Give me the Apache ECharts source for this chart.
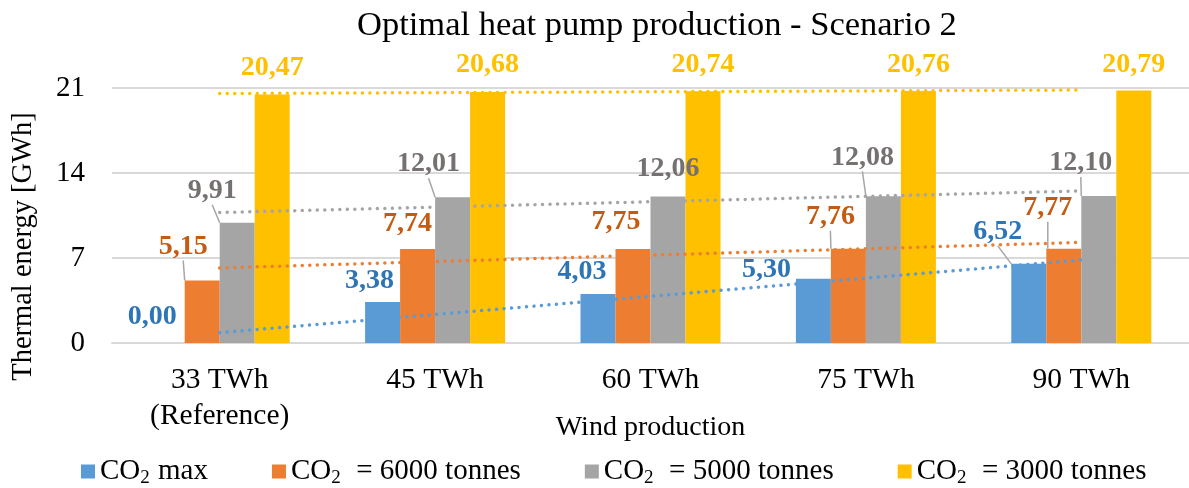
<!DOCTYPE html>
<html>
<head>
<meta charset="utf-8">
<script src="https://cdn.jsdelivr.net/npm/echarts@6/dist/echarts.min.js"></script>
<style>
  html, body { margin: 0; padding: 0; background: #ffffff; }
  #chart { width: 1189px; height: 488px; }
</style>
</head>
<body>
<div id="chart"></div>
<script>
// Wind production scenarios (x axis)
const categories = ['33 TWh\n(Reference)', '45 TWh', '60 TWh', '75 TWh', '90 TWh'];

// Heat pump production [GWh] per CO2 constraint
const co2Max   = [0.00, 3.38, 4.03, 5.30, 6.52];
const co2T6000 = [5.15, 7.74, 7.75, 7.76, 7.77];
const co2T5000 = [9.91, 12.01, 12.06, 12.08, 12.10];
const co2T3000 = [20.47, 20.68, 20.74, 20.76, 20.79];

const seriesNames = ['CO2 max', 'CO2  = 6000 tonnes', 'CO2  = 5000 tonnes', 'CO2  = 3000 tonnes'];

// Value axis ticks
const yMin = 0, yMax = 21, yStep = 7;

const FONT = "'Liberation Serif', 'Times New Roman', serif";
const barColors   = ['#5B9BD5', '#ED7D31', '#A5A5A5', '#FFC000'];
const labelColors = ['#2E75B6', '#C55A11', '#767171', '#FFC000'];

// Manual nudges of the value labels (dx, dy in px) and which ones get a leader line
const labelShift = [
  [[-15, -7], [-13, -2], [-16, -3], [-47, 10], [-31, -13]],
  [[-19, -15], [-10, -6], [-17, -8], [-18, -13], [-16, -22]],
  [[-25, -13], [-24, -14], [0, -9], [-21, -20], [-18, -14]],
  [[0, -8], [0, -8], [0, -7], [0, -7], [0, -7]]
];
const leader = [
  [false, false, false, false, true],
  [true, false, false, true, true],
  [true, true, false, true, true],
  [false, false, false, false, false]
];

const seriesData = [co2Max, co2T6000, co2T5000, co2T3000];

// Least-squares linear trend evaluated at each category position
function linearTrend(values) {
  const n = values.length;
  const xs = values.map((_, i) => i + 1);
  const mx = xs.reduce((a, b) => a + b, 0) / n;
  const my = values.reduce((a, b) => a + b, 0) / n;
  let sxy = 0, sxx = 0;
  for (let i = 0; i < n; i++) {
    sxy += (xs[i] - mx) * (values[i] - my);
    sxx += (xs[i] - mx) * (xs[i] - mx);
  }
  const slope = sxy / sxx;
  const icpt = my - slope * mx;
  return xs.map(x => +(icpt + slope * x).toFixed(4));
}

const fmt = v => v.toFixed(2).replace('.', ',');

const barSeries = seriesData.map((vals, s) => ({
  name: seriesNames[s],
  type: 'bar',
  barWidth: 35,
  barGap: '0%',
  itemStyle: { color: barColors[s] },
  data: vals.map((v, i) => ({
    value: v,
    labelLine: { show: leader[s][i] }
  })),
  label: {
    show: true,
    position: 'top',
    distance: 5,
    formatter: p => fmt(p.value),
    color: labelColors[s],
    fontFamily: FONT,
    fontWeight: 'bold',
    fontSize: 28
  },
  labelLine: {
    show: false,
    lineStyle: { color: '#A6A6A6', width: 1.5 }
  },
  labelLayout: p => ({ dx: labelShift[s][p.dataIndex][0], dy: labelShift[s][p.dataIndex][1] }),
  z: 2
}));

const trendSeries = seriesData.map((vals, s) => ({
  name: seriesNames[s] + ' trend',
  type: 'line',
  data: linearTrend(vals),
  showSymbol: false,
  symbol: 'none',
  silent: true,
  lineStyle: { color: barColors[s], width: 3.5, type: [0.01, 7.5], cap: 'round' },
  z: 5
}));

const chart = echarts.init(document.getElementById('chart'), null, { renderer: 'canvas' });
chart.setOption({
  animation: false,
  backgroundColor: '#ffffff',
  title: {
    text: 'Optimal heat pump production - Scenario 2',
    left: 357,
    top: 8,
    padding: 0,
    textStyle: { fontFamily: FONT, fontSize: 34.5, fontWeight: 'normal', color: '#000000' }
  },
  grid: { left: 112, right: 0, top: 88, bottom: 145, containLabel: false, outerBoundsMode: 'none' },
  legend: {
    data: seriesNames,
    left: 76,
    top: 452,
    itemWidth: 14,
    itemHeight: 14,
    itemGap: 64,
    icon: 'rect',
    formatter: name => '{n|CO}{s|2}{n|' + name.slice(3) + '}',
    textStyle: {
      fontFamily: FONT,
      fontSize: 29,
      color: '#000000',
      rich: {
        n: { fontFamily: FONT, fontSize: 29, color: '#000000' },
        s: { fontFamily: FONT, fontSize: 19, color: '#000000', padding: [13, 1, 0, 0] }
      }
    }
  },
  xAxis: {
    type: 'category',
    data: categories,
    name: 'Wind production',
    nameLocation: 'middle',
    nameGap: 71,
    nameMoveOverlap: false,
    nameTextStyle: { fontFamily: FONT, fontSize: 28, color: '#000000' },
    axisLine: { lineStyle: { color: '#D9D9D9', width: 2 } },
    axisTick: { show: false },
    axisLabel: { fontFamily: FONT, fontSize: 29.5, color: '#000000', margin: 19, lineHeight: 36 }
  },
  yAxis: {
    type: 'value',
    min: yMin,
    max: yMax,
    interval: yStep,
    name: 'Thermal energy [GWh]',
    nameLocation: 'middle',
    nameGap: 74,
    nameMoveOverlap: false,
    nameTextStyle: { fontFamily: FONT, fontSize: 28.5, color: '#000000', padding: [0, 62, 0, 0] },
    axisLine: { show: false },
    axisTick: { show: false },
    splitLine: { lineStyle: { color: '#D9D9D9', width: 2 } },
    axisLabel: { fontFamily: FONT, fontSize: 29, color: '#000000', margin: 27 }
  },
  series: barSeries.concat(trendSeries)
});
</script>
</body>
</html>
